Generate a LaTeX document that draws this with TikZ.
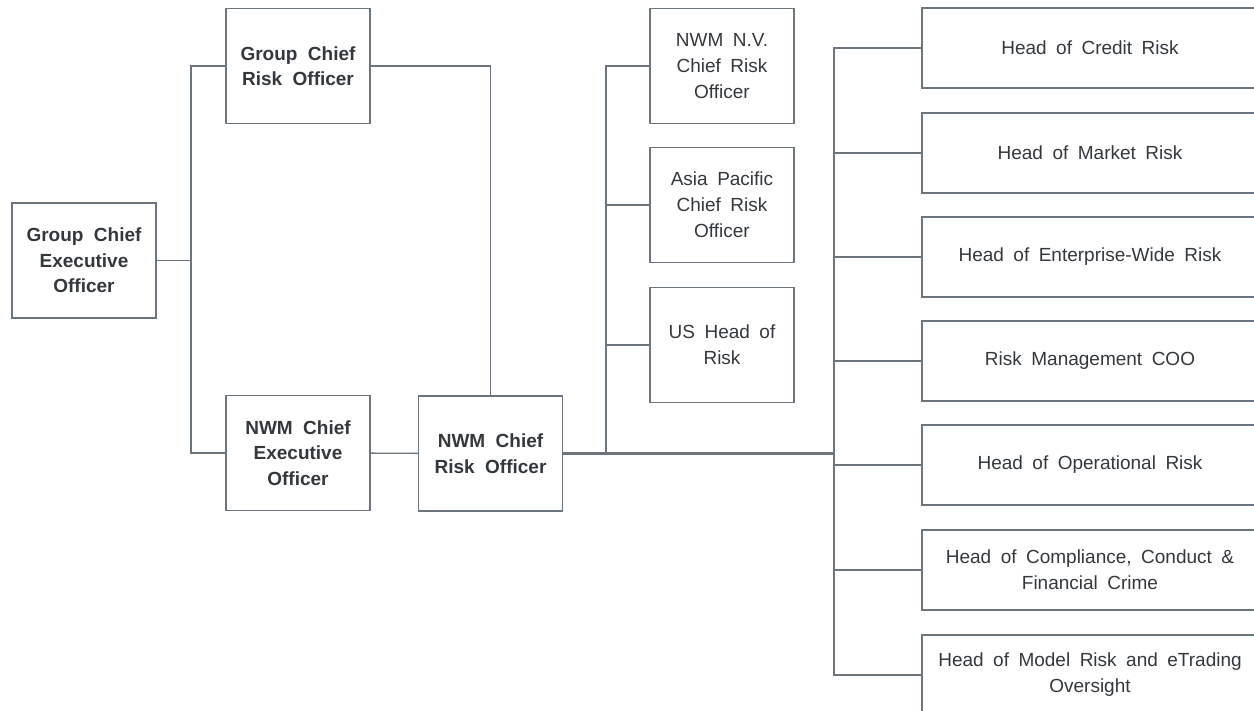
\documentclass[tikz,border=0pt]{standalone}
\usepackage{fontspec}
\setmainfont{Liberation Sans}
\definecolor{boxline}{RGB}{108,116,125}
\definecolor{boxtext}{RGB}{51,56,61}
\newcommand{\orgfont}{\fontsize{19}{26}\selectfont\setlength{\spaceskip}{.5em}}
\newcommand{\orgbold}{\fontsize{19}{25.5}\selectfont\bfseries\setlength{\spaceskip}{.55em}}

\begin{document}
\begin{tikzpicture}[x=1pt,y=-1pt,
		box/.style={draw=boxline,line width=1.4pt,text=boxtext,align=center,inner sep=0pt,
			minimum width=144pt,minimum height=115pt,font=\orgfont},
		bbox/.style={box,font=\orgbold},
		wbox/.style={box,minimum width=336pt,minimum height=80pt},
		conn/.style={draw=boxline,line width=1.4pt}]
		\useasboundingbox (0,0) rectangle (1254,711);
		% left part
		\node[bbox] (gceo) at (84,260.5) {Group Chief\\Executive\\Officer};
		\node[bbox] (gcro) at (298,66) {Group Chief\\Risk Officer};
		\node[bbox] (nceo) at (298,453) {NWM Chief\\Executive\\Officer};
		\node[bbox] (ncro) at (490.5,453.5) {NWM Chief\\Risk Officer};
		% regional
		\node[box] (nv) at (722,66) {NWM N.V.\\Chief Risk\\Officer};
		\node[box] (ap) at (722,205) {Asia Pacific\\Chief Risk\\Officer};
		\node[box] (us) at (722,345) {US Head of\\Risk};
		% heads
		\node[wbox] (cr) at (1090,48) {Head of Credit Risk};
		\node[wbox] (mr) at (1090,153) {Head of Market Risk};
		\node[wbox] (ew) at (1090,257) {Head of Enterprise-Wide Risk};
		\node[wbox] (coo) at (1090,361) {Risk Management COO};
		\node[wbox] (op) at (1090,465) {Head of Operational Risk};
		\node[wbox] (cc) at (1090,570) {Head of Compliance, Conduct \&\\Financial Crime};
		\node[wbox] (mo) at (1090,675) {Head of Model Risk and eTrading\\Oversight};
		\coordinate (j1) at (191,260.5);
		\coordinate (j2) at (606,453.5);
		\coordinate (j3) at (834,453.5);
		\draw[conn] (gceo) -- (j1) |- (gcro);
		\draw[conn] (j1) |- (nceo);
		\draw[conn] (gcro) -| (ncro);
		\draw[conn] (nceo) -- (ncro);
		\draw[conn,line width=2.4pt] (ncro) -- (j3);
		\draw[conn] (j2) |- (nv);
		\draw[conn] (j2) |- (ap);
		\draw[conn] (j2) |- (us);
		\draw[conn] (j3) |- (cr);
		\draw[conn] (j3) |- (mr);
		\draw[conn] (j3) |- (ew);
		\draw[conn] (j3) |- (coo);
		\draw[conn] (j3) |- (op);
		\draw[conn] (j3) |- (cc);
		\draw[conn] (j3) |- (mo);
	\end{tikzpicture}
\end{document}
